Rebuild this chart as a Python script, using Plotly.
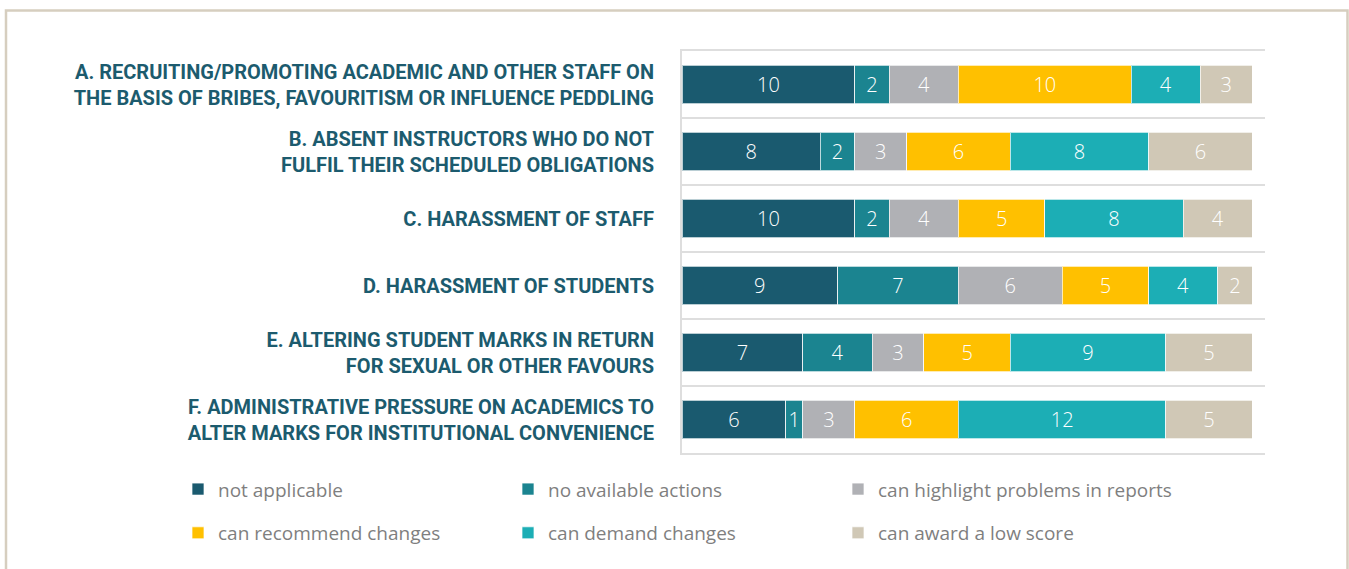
import plotly.graph_objects as go

categories = [
    "A. RECRUITING/PROMOTING ACADEMIC AND OTHER STAFF ON<br>THE BASIS OF BRIBES, FAVOURITISM OR INFLUENCE PEDDLING",
    "B. ABSENT INSTRUCTORS WHO DO NOT<br>FULFIL THEIR SCHEDULED OBLIGATIONS",
    "C. HARASSMENT OF STAFF",
    "D. HARASSMENT OF STUDENTS",
    "E. ALTERING STUDENT MARKS IN RETURN<br>FOR SEXUAL OR OTHER FAVOURS",
    "F. ADMINISTRATIVE PRESSURE ON ACADEMICS TO<br>ALTER MARKS FOR INSTITUTIONAL CONVENIENCE",
]

series_names = [
    "not applicable",
    "no available actions",
    "can highlight problems in reports",
    "can recommend changes",
    "can demand changes",
    "can award a low score",
]

not_applicable = [10, 8, 10, 9, 7, 6]
no_available_actions = [2, 2, 2, 7, 4, 1]
can_highlight = [4, 3, 4, 6, 3, 3]
can_recommend = [10, 6, 5, 5, 5, 6]
can_demand = [4, 8, 8, 4, 9, 12]
can_award = [3, 6, 4, 2, 5, 5]

series_values = [not_applicable, no_available_actions, can_highlight,
                 can_recommend, can_demand, can_award]
colors = ["#1a5a6f", "#1b8490", "#b0b1b5", "#ffc000", "#1caeb5", "#d0c8b6"]

W, H = 1349, 569
L, R, T, B = 682, 84, 51, 116
pw, ph = W - L - R, H - T - B

legend_ids = ["legend", "legend2", "legend3"]

fig = go.Figure()
for i, (name, vals, col) in enumerate(zip(series_names, series_values, colors)):
    fig.add_trace(go.Bar(
        name=name, y=categories, x=vals, orientation="h",
        marker=dict(color=col, line=dict(color="rgba(255,255,255,0.7)", width=1)),
        text=vals, texttemplate="%{x}", textposition="inside",
        insidetextanchor="middle", textangle=0,
        textfont=dict(color="white", size=20, family="Open Sans", weight=300),
        legend=legend_ids[i % 3], legendgroup=f"g{i}",
    ))

def px_to_py(py):
    return (H - B - py) / ph

def px_to_px(px):
    return (px - L) / pw

def legend_at(left_px):
    return dict(
        orientation="v", xanchor="left", yanchor="middle",
        x=px_to_px(left_px), y=px_to_py(511.25),
        font=dict(family="Open Sans", size=19, color="#7f7f7f"),
        bgcolor="rgba(0,0,0,0)", traceorder="grouped", tracegroupgap=16,
    )

fig.update_layout(
    width=W, height=H,
    margin=dict(l=L, r=R, t=T, b=B, pad=0),
    paper_bgcolor="white", plot_bgcolor="white",
    barmode="stack", bargap=0.43,
    showlegend=True,
    legend=legend_at(178),
    legend2=legend_at(508),
    legend3=legend_at(838),
    uniformtext=dict(minsize=20, mode="show"),
    xaxis=dict(range=[0, 33.74], showticklabels=False, showgrid=False,
               zeroline=False, showline=True, mirror=True,
               linecolor="#dedede", linewidth=2, fixedrange=True),
    yaxis=dict(autorange="reversed", tickson="boundaries", showgrid=True,
               gridcolor="#dedede", gridwidth=2, showline=True,
               linecolor="#dedede", linewidth=2, ticks="", ticklabelstandoff=22,
               tickfont=dict(family="Roboto", size=20, color="#1c5b6e", weight=700)),
    shapes=[dict(type="rect", xref="paper", yref="paper",
                 x0=px_to_px(6), x1=px_to_px(1347.5),
                 y0=px_to_py(600), y1=px_to_py(10.5),
                 line=dict(color="#d6cebf", width=2.5), layer="below")],
)

fig.write_html("out.html", config={"displayModeBar": False},
               post_script="document.body.style.margin='0';document.body.style.overflow='hidden';")
